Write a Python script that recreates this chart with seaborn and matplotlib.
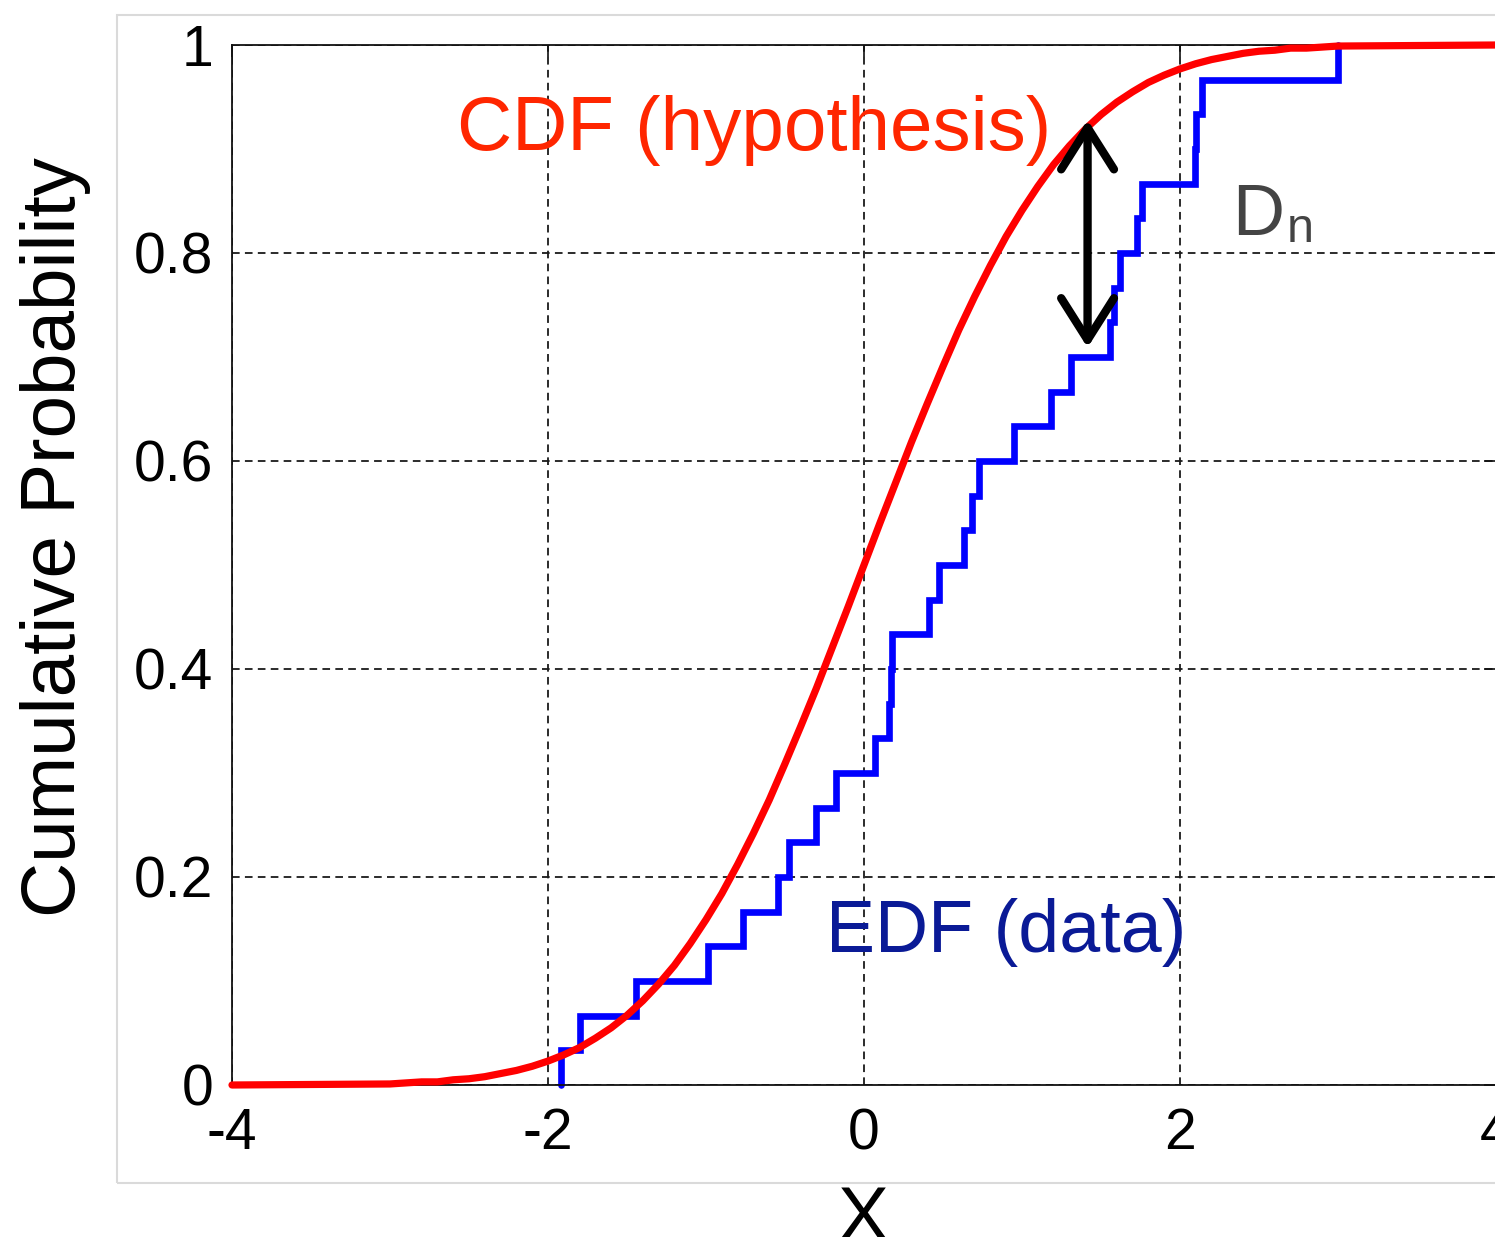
import numpy as np
import pandas as pd
import matplotlib
matplotlib.use("Agg")
import matplotlib.pyplot as plt
import seaborn as sns
from matplotlib.patches import Rectangle

# ---------------- data ----------------
# sorted sample values (each EDF step = 1/30)
edf_samples = [-1.92, -1.80, -1.44, -0.985, -0.764, -0.543, -0.474, -0.303, -0.177, 0.069,
               0.158, 0.168, 0.178, 0.41, 0.474, 0.632, 0.682, 0.726, 0.948, 1.181,
               1.308, 1.56, 1.58, 1.62, 1.73, 1.76, 2.095, 2.10, 2.14, 3.0]

# hypothesised CDF
cdf_x = [-4.0, -3.0, -2.9, -2.8, -2.7, -2.6, -2.5, -2.4, -2.3, -2.2, -2.1, -2.0, -1.9,
         -1.8, -1.7, -1.6, -1.5, -1.4, -1.3, -1.2, -1.1, -1.0, -0.9, -0.8, -0.7, -0.6,
         -0.5, -0.4, -0.3, -0.2, -0.1, 0.0, 0.1, 0.2, 0.3, 0.4, 0.5, 0.6, 0.7, 0.8, 0.9,
         1.0, 1.1, 1.2, 1.3, 1.4, 1.5, 1.6, 1.7, 1.8, 1.9, 2.0, 2.1, 2.2, 2.3, 2.4, 2.5,
         2.6, 2.7, 2.8, 2.9, 3.0, 4.0]
cdf_y = [0.0, 0.001, 0.002, 0.003, 0.003, 0.005, 0.006, 0.008, 0.011, 0.014, 0.018, 0.023,
         0.029, 0.036, 0.045, 0.055, 0.067, 0.081, 0.097, 0.115, 0.136, 0.159, 0.184, 0.212,
         0.242, 0.274, 0.309, 0.345, 0.382, 0.421, 0.460, 0.500, 0.540, 0.579, 0.618, 0.655,
         0.691, 0.726, 0.758, 0.788, 0.816, 0.841, 0.864, 0.885, 0.903, 0.919, 0.933, 0.945,
         0.955, 0.964, 0.971, 0.977, 0.982, 0.986, 0.989, 0.992, 0.994, 0.995, 0.997, 0.997,
         0.998, 0.999, 1.0]

x_ticks = [-4, -2, 0, 2, 4]
x_tick_labels = ["-4", "-2", "0", "2", "4"]
y_ticks = [0, 0.2, 0.4, 0.6, 0.8, 1.0]
y_tick_labels = ["0", "0.2", "0.4", "0.6", "0.8", "1"]

# D_n arrow (x position, top and bottom probabilities)
dn_x = 1.415
dn_top = 0.928
dn_bottom = 0.709

# ---------------- style ----------------
sns.set_theme(style="white")
plt.rcParams["font.family"] = ["Liberation Sans", "DejaVu Sans"]
plt.rcParams["axes.unicode_minus"] = False
plt.rcParams["lines.scale_dashes"] = False

W, H = 1495, 1237
fig = plt.figure(figsize=(W / 100, H / 100), dpi=100)
fig.patch.set_facecolor("white")

# light outer frame (figure edge)
fig.add_artist(Rectangle((117 / W, (H - 1183) / H), 1.5, (1183 - 15) / H,
                         transform=fig.transFigure, fill=False,
                         ec="#dadada", lw=1.5, zorder=-5))

ax = fig.add_axes([232 / W, (H - 1085) / H, 1264 / W, 1040 / H])
ax.set_facecolor("white")

# EDF
sns.ecdfplot(x=edf_samples, ax=ax, color="#0000ff", lw=4.8, zorder=2)
# CDF hypothesis
sns.lineplot(x=cdf_x, y=cdf_y, ax=ax, color="#ff0000", lw=5.2, zorder=3)
for ln in ax.lines:
    ln.set_clip_on(False)
    ln.set_solid_joinstyle("miter")

ax.set_xlim(-4, 4)
ax.set_ylim(0, 1)
ax.set_xticks(x_ticks)
ax.set_xticklabels(x_tick_labels)
ax.set_yticks(y_ticks)
ax.set_yticklabels(y_tick_labels)
ax.set_xlabel("")
ax.set_ylabel("")

ax.grid(True, color="#1a1a1a", lw=1.3, linestyle=(0, (5.5, 3.8)))
ax.set_axisbelow(True)
for s in ax.spines.values():
    s.set_color("#111111")
    s.set_linewidth(1.3)
    s.set_visible(True)

ax.tick_params(axis="both", direction="in", length=8.6, width=1.2, colors="#111111",
               top=True, right=True, labelsize=41, labelcolor="black")
ax.tick_params(axis="x", pad=16)
ax.tick_params(axis="y", pad=13.5)

# axis labels
fig.text(56 / W, 1 - 537 / H, "Cumulative Probability", rotation=90,
         ha="center", va="center", fontsize=55, color="black")
fig.text(863 / W, 1 - 1240 / H, "X", ha="center", va="baseline",
         fontsize=55, color="black")

# annotations
ax.text(-2.577, 0.899, "CDF (hypothesis)", color="#ff2600", fontsize=55,
        ha="left", va="baseline", zorder=5)
ax.text(-0.24, 0.128, "EDF (data)", color="#0a1a96", fontsize=53,
        ha="left", va="baseline", zorder=5)
ax.text(2.331, 0.817, "D", color="#444444", fontsize=52, ha="left", va="baseline", zorder=5)
ax.text(2.675, 0.811, "n", color="#444444", fontsize=35, ha="left", va="baseline", zorder=5)

ax.annotate("", xy=(dn_x, dn_top), xytext=(dn_x, dn_bottom),
            arrowprops=dict(arrowstyle="<->,head_length=0.6,head_width=0.38",
                            lw=6, color="black", mutation_scale=50,
                            shrinkA=0, shrinkB=0, joinstyle="round",
                            capstyle="round"),
            zorder=6)

fig.savefig("out.png", dpi=100, facecolor="white")
